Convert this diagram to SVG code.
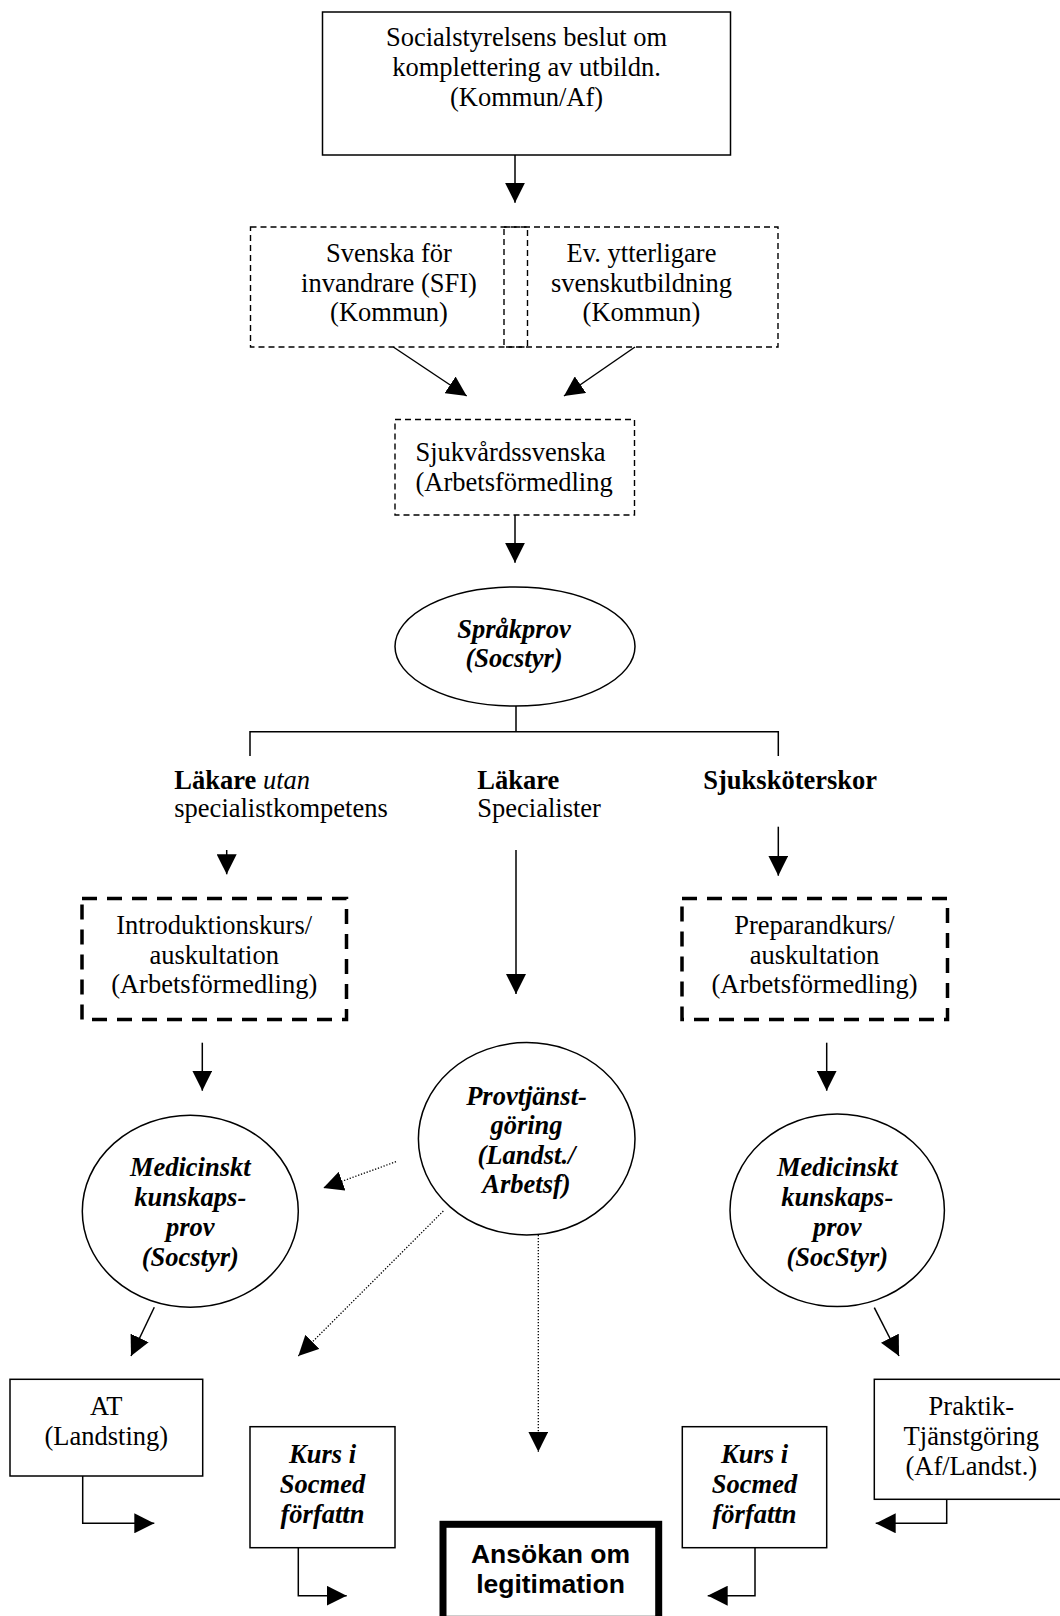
<svg xmlns="http://www.w3.org/2000/svg" width="1060" height="1616" viewBox="0 0 1060 1616">
  <style>
    text { font-family: "Liberation Serif", "Times New Roman", serif; font-size: 26.5px; fill: #000; }
    .c { text-anchor: middle; }
    .bi { font-weight: bold; font-style: italic; }
    .b { font-weight: bold; }
    .i { font-style: italic; }
    .sans { font-family: "Liberation Sans", Arial, sans-serif; font-weight: bold; }
    .box { fill: #fff; stroke: #000; stroke-width: 1.5; }
    .dash { fill: none; stroke: #000; stroke-width: 1.4; stroke-dasharray: 6 4; }
    .thick-dash { fill: none; stroke: #000; stroke-width: 3.5; stroke-dasharray: 15 10; }
    .oval { fill: #fff; stroke: #000; stroke-width: 1.5; }
    .line { fill: none; stroke: #000; stroke-width: 1.5; }
    .dot { fill: none; stroke: #000; stroke-width: 1.3; stroke-dasharray: 1.3 1.7; }
  </style>
  <defs>
    <marker id="head" markerUnits="userSpaceOnUse" markerWidth="20" markerHeight="20" refX="20" refY="10" orient="auto">
      <path d="M0,0 L20,10 L0,20 Z" fill="#000"/>
    </marker>
  </defs>
  <rect width="1060" height="1616" fill="#fff"/>

  <g id="beslut">
    <rect class="box" x="322.5" y="12" width="408" height="143"/>
    <text class="c" x="526.5" y="46">Socialstyrelsens beslut om</text>
    <text class="c" x="526.5" y="76">komplettering av utbildn.</text>
    <text class="c" x="526.5" y="106">(Kommun/Af)</text>
  </g>

  <g id="sfi">
    <rect class="dash" x="250.5" y="227" width="277" height="120"/>
    <text class="c" x="389" y="262">Svenska för</text>
    <text class="c" x="389" y="291.5">invandrare (SFI)</text>
    <text class="c" x="389" y="321">(Kommun)</text>
  </g>

  <g id="svenskutbildning">
    <rect class="dash" x="504" y="227" width="274" height="120"/>
    <text class="c" x="641.5" y="262">Ev. ytterligare</text>
    <text class="c" x="641.5" y="291.5">svenskutbildning</text>
    <text class="c" x="641.5" y="321">(Kommun)</text>
  </g>

  <g id="sjukvardssvenska">
    <rect class="dash" x="395" y="419.5" width="239.5" height="95.5"/>
    <text x="415.5" y="460.5">Sjukvårdssvenska</text>
    <text x="415.5" y="490.5">(Arbetsförmedling</text>
  </g>

  <g id="sprakprov">
    <ellipse class="oval" cx="515" cy="646.5" rx="120" ry="59.5"/>
    <text class="c bi" x="514" y="638">Språkprov</text>
    <text class="c bi" x="514" y="666.5">(Socstyr)</text>
  </g>

  <g id="lakare-utan">
    <text x="174.3" y="789.3"><tspan class="b">Läkare</tspan> <tspan class="i">utan</tspan></text>
    <text x="174.3" y="817.3">specialistkompetens</text>
  </g>

  <g id="lakare-specialister">
    <text class="b" x="477.3" y="789.3">Läkare</text>
    <text x="477.3" y="817.3">Specialister</text>
  </g>

  <g id="sjukskoterskor">
    <text class="b" x="703.3" y="789.3">Sjuksköterskor</text>
  </g>

  <g id="introduktionskurs">
    <rect class="thick-dash" x="82" y="898.5" width="264.5" height="121"/>
    <text class="c" x="214.2" y="934">Introduktionskurs/</text>
    <text class="c" x="214.2" y="963.5">auskultation</text>
    <text class="c" x="214.2" y="993">(Arbetsförmedling)</text>
  </g>

  <g id="preparandkurs">
    <rect class="thick-dash" x="682" y="898.5" width="265.5" height="121"/>
    <text class="c" x="814.5" y="934">Preparandkurs/</text>
    <text class="c" x="814.5" y="963.5">auskultation</text>
    <text class="c" x="814.5" y="993">(Arbetsförmedling)</text>
  </g>

  <g id="provtjanstgoring">
    <ellipse class="oval" cx="526.7" cy="1138.8" rx="108.3" ry="96.2"/>
    <text class="c bi" x="526.5" y="1104.5">Provtjänst-</text>
    <text class="c bi" x="526.5" y="1134">göring</text>
    <text class="c bi" x="526.5" y="1163.5">(Landst./</text>
    <text class="c bi" x="526.5" y="1193">Arbetsf)</text>
  </g>

  <g id="kunskapsprov-lakare">
    <ellipse class="oval" cx="190.3" cy="1211.2" rx="108" ry="96"/>
    <text class="c bi" x="190.3" y="1176">Medicinskt</text>
    <text class="c bi" x="190.3" y="1206">kunskaps-</text>
    <text class="c bi" x="190.3" y="1236">prov</text>
    <text class="c bi" x="190.3" y="1266">(Socstyr)</text>
  </g>

  <g id="kunskapsprov-sjukskoterskor">
    <ellipse class="oval" cx="837.2" cy="1210.3" rx="107.2" ry="96.3"/>
    <text class="c bi" x="837.3" y="1175.5">Medicinskt</text>
    <text class="c bi" x="837.3" y="1205.5">kunskaps-</text>
    <text class="c bi" x="837.3" y="1235.5">prov</text>
    <text class="c bi" x="837.3" y="1265.5">(SocStyr)</text>
  </g>

  <g id="at">
    <rect class="box" x="10" y="1379.3" width="192.7" height="96.7"/>
    <text class="c" x="106.3" y="1415">AT</text>
    <text class="c" x="106.3" y="1445">(Landsting)</text>
  </g>

  <g id="kurs-lakare">
    <rect class="box" x="250" y="1426.7" width="145" height="121"/>
    <text class="c bi" x="322.5" y="1462.7">Kurs i</text>
    <text class="c bi" x="322.5" y="1492.7">Socmed</text>
    <text class="c bi" x="322.5" y="1522.7">författn</text>
  </g>

  <g id="kurs-sjukskoterskor">
    <rect class="box" x="682.3" y="1426.7" width="144.4" height="121"/>
    <text class="c bi" x="754.5" y="1462.7">Kurs i</text>
    <text class="c bi" x="754.5" y="1492.7">Socmed</text>
    <text class="c bi" x="754.5" y="1522.7">författn</text>
  </g>

  <g id="praktiktjanstgoring">
    <rect class="box" x="874.3" y="1379.3" width="194" height="120"/>
    <text class="c" x="971.3" y="1415">Praktik-</text>
    <text class="c" x="971.3" y="1445">Tjänstgöring</text>
    <text class="c" x="971.3" y="1475">(Af/Landst.)</text>
  </g>

  <g id="ansokan">
    <rect x="443" y="1524.3" width="215.7" height="95" fill="#fff" stroke="#000" stroke-width="7"/>
    <text class="c sans" x="550.5" y="1562.5">Ansökan om</text>
    <text class="c sans" x="550.5" y="1592.5">legitimation</text>
  </g>

  <g id="connectors">
    <!-- top of the flow -->
    <path class="line" d="M515,155 V202.7" marker-end="url(#head)"/>
    <path class="line" d="M393.3,347 L466.7,396" marker-end="url(#head)"/>
    <path class="line" d="M635,347 L564,396" marker-end="url(#head)"/>
    <path class="line" d="M515,515 V562.7" marker-end="url(#head)"/>
    <!-- branching after the language test -->
    <path class="line" d="M516,706 V731.7 M250,756 V731.7 H778.3 V756"/>
    <path class="line" d="M226.7,850 V874.3" marker-end="url(#head)"/>
    <path class="line" d="M516,850 V994" marker-end="url(#head)"/>
    <path class="line" d="M778.3,826.7 V875.7" marker-end="url(#head)"/>
    <path class="line" d="M202.3,1042.7 V1090.7" marker-end="url(#head)"/>
    <path class="line" d="M826.7,1042.7 V1090.7" marker-end="url(#head)"/>
    <!-- optional routes from provtjänstgöring -->
    <path class="dot" d="M396,1161.7 L323.3,1188" marker-end="url(#head)"/>
    <path class="dot" d="M443.3,1211 L298.3,1356" marker-end="url(#head)"/>
    <path class="dot" d="M538.3,1235 V1451.7" marker-end="url(#head)"/>
    <!-- exams to practice -->
    <path class="line" d="M154.3,1307.3 L131,1356" marker-end="url(#head)"/>
    <path class="line" d="M874.3,1307.7 L899,1356" marker-end="url(#head)"/>
    <!-- elbows toward the application -->
    <path class="line" d="M82.7,1476 V1523.3 H154.3" marker-end="url(#head)"/>
    <path class="line" d="M298.3,1547.7 V1595.7 H346.7" marker-end="url(#head)"/>
    <path class="line" d="M755,1547.7 V1595.7 H707.7" marker-end="url(#head)"/>
    <path class="line" d="M946.7,1499.3 V1523.3 H875.7" marker-end="url(#head)"/>
  </g>
</svg>
